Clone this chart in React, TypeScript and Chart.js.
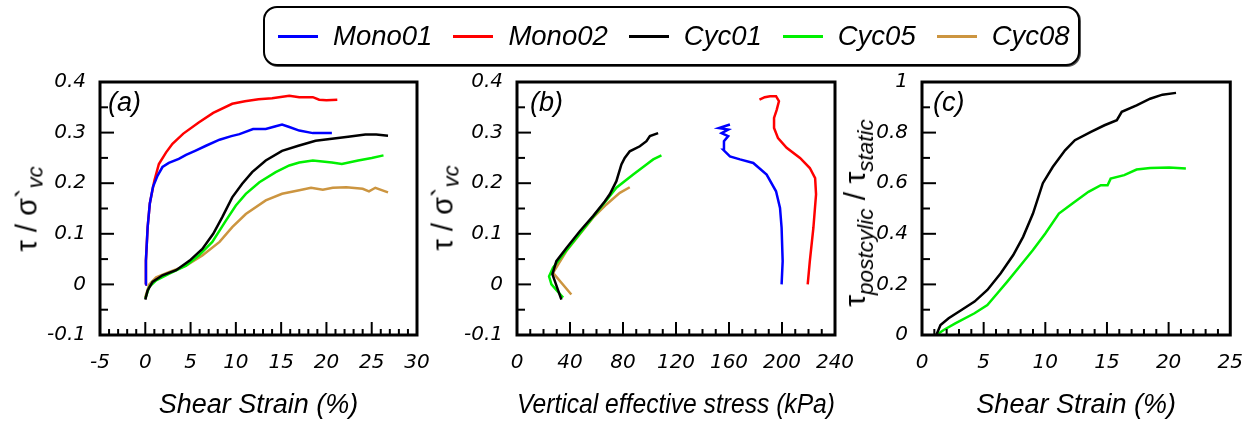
import React, { useEffect, useRef } from "react";
import { Chart, registerables } from "chart.js";

Chart.register(...registerables);

const W = 1259;
const H = 423;
const FONT = "'Liberation Sans', Arial, Helvetica, sans-serif";
const TICK_FONT = "'DejaVu Sans', Verdana, sans-serif";

// ---------- Panel (a): stress ratio vs shear strain ----------
const aMono01X = [0, 0.07, 0.26, 0.5, 0.85, 1.36, 1.9, 2.6, 3.7, 4.5, 5.5, 6.7, 8.2, 9.5, 10.4, 11.9, 13.3, 14.3, 15.1, 15.9, 17.0, 18.5, 20.6];
const aMono01Y = [0, 0.047, 0.113, 0.16, 0.193, 0.215, 0.232, 0.24, 0.248, 0.256, 0.264, 0.274, 0.286, 0.293, 0.297, 0.307, 0.307, 0.312, 0.316, 0.311, 0.304, 0.299, 0.299];
const aMono02X = [0, 0.07, 0.26, 0.5, 1.0, 1.5, 2.3, 3.0, 4.2, 5.9, 7.5, 9.6, 11.0, 12.5, 14.0, 15.9, 17.0, 18.5, 19.2, 20.0, 21.2];
const aMono02Y = [0, 0.047, 0.113, 0.16, 0.205, 0.238, 0.261, 0.278, 0.298, 0.32, 0.339, 0.357, 0.362, 0.366, 0.368, 0.373, 0.37, 0.37, 0.365, 0.364, 0.365];
const aCyc01X = [0, 0.26, 0.8, 1.9, 3.4, 4.9, 6.3, 7.5, 8.5, 9.6, 10.7, 11.8, 13.3, 15.1, 16.9, 18.8, 20.6, 22.4, 24.3, 25.5, 26.8];
const aCyc01Y = [-0.03, -0.012, 0.005, 0.018, 0.028, 0.047, 0.07, 0.1, 0.133, 0.172, 0.199, 0.222, 0.245, 0.264, 0.274, 0.284, 0.288, 0.292, 0.296, 0.296, 0.294];
const aCyc05X = [0, 0.44, 1.2, 2.6, 4.5, 5.9, 7.4, 8.9, 10.0, 11.1, 12.6, 14.4, 15.9, 17.0, 18.5, 20.6, 21.7, 23.5, 25.0, 26.3];
const aCyc05Y = [-0.028, -0.005, 0.008, 0.021, 0.037, 0.057, 0.084, 0.126, 0.156, 0.179, 0.202, 0.222, 0.235, 0.241, 0.245, 0.241, 0.238, 0.245, 0.25, 0.255];
const aCyc08X = [0, 0.44, 1.2, 2.6, 4.5, 6.3, 8.2, 9.6, 11.1, 13.3, 15.1, 17.0, 18.3, 19.6, 20.7, 22.2, 24.0, 24.7, 25.4, 26.8];
const aCyc08Y = [-0.025, 0, 0.014, 0.024, 0.037, 0.057, 0.084, 0.113, 0.139, 0.166, 0.179, 0.186, 0.191, 0.187, 0.191, 0.192, 0.189, 0.184, 0.191, 0.182];

// ---------- Panel (b): stress ratio vs vertical effective stress ----------
const bMono01X = [199.7, 200.5, 199.7, 198.5, 195.5, 188.4, 178.3, 168.3, 160.7, 155.7, 156.2, 159.4, 154.4, 159.4, 152.4, 160.7];
const bMono01Y = [0, 0.046, 0.112, 0.151, 0.184, 0.217, 0.24, 0.247, 0.253, 0.266, 0.283, 0.293, 0.299, 0.306, 0.309, 0.316];
const bMono02X = [219.4, 221, 223.7, 225.7, 225, 221, 213.6, 203.5, 197, 194, 194, 196, 197.7, 195.5, 191, 187, 183];
const bMono02Y = [0, 0.046, 0.112, 0.178, 0.21, 0.23, 0.25, 0.27, 0.289, 0.309, 0.329, 0.345, 0.362, 0.372, 0.372, 0.37, 0.365];
const bCyc01X = [33.5, 28.5, 26.7, 29.7, 37.3, 47.4, 57.4, 66.2, 70, 75, 78.8, 81.3, 85.1, 92.7, 97.7, 100.3, 106.5];
const bCyc01Y = [-0.03, 0.007, 0.02, 0.046, 0.072, 0.105, 0.135, 0.164, 0.178, 0.204, 0.237, 0.25, 0.263, 0.273, 0.283, 0.293, 0.299];
const bCyc05X = [34.8, 26, 24.2, 27.2, 34.8, 44.8, 54.9, 65, 75, 87.7, 97.7, 102.8, 109];
const bCyc05Y = [-0.026, 0, 0.016, 0.033, 0.059, 0.092, 0.125, 0.158, 0.191, 0.217, 0.237, 0.247, 0.255];
const bCyc08X = [41, 27.2, 37.3, 47.4, 57.4, 67.5, 77.6, 85.1];
const bCyc08Y = [-0.02, 0.023, 0.066, 0.099, 0.132, 0.158, 0.181, 0.192];

// ---------- Panel (c): post-cyclic / static strength vs shear strain ----------
const cCyc01X = [1.16, 1.5, 2.16, 3.2, 4.26, 5.3, 6.37, 7.4, 8.2, 9.0, 9.8, 10.6, 11.6, 12.4, 13.7, 14.8, 15.8, 16.2, 17.4, 18.5, 19.5, 20.6];
const cCyc01Y = [0, 0.039, 0.066, 0.099, 0.132, 0.178, 0.243, 0.316, 0.388, 0.48, 0.6, 0.664, 0.73, 0.77, 0.803, 0.829, 0.849, 0.882, 0.908, 0.934, 0.95, 0.957];
const cCyc05X = [1.16, 1.76, 2.7, 4.26, 5.3, 6.1, 6.9, 7.9, 9.0, 10.0, 11.1, 12.2, 13.5, 14.5, 15.05, 15.3, 16.4, 17.4, 18.5, 20.05, 21.4];
const cCyc05Y = [0, 0.02, 0.046, 0.086, 0.118, 0.164, 0.21, 0.27, 0.336, 0.401, 0.48, 0.52, 0.566, 0.592, 0.592, 0.618, 0.632, 0.654, 0.66, 0.662, 0.658];

const seriesNames = ["Mono01", "Mono02", "Cyc01", "Cyc05", "Cyc08"];
const seriesColors = ["#0000ff", "#ff0000", "#000000", "#00f000", "#cc9540"];

const xTitleA = "Shear Strain (%)";
const xTitleB = "Vertical effective stress (kPa)";
const xTitleC = "Shear Strain (%)";

type DS = { label: string; color: string; x: number[]; y: number[] };
type Spec = {
  left: number; right: number; top: number; bottom: number;
  xMin: number; xMax: number; xStep: number; xMinor: number;
  yMin: number; yMax: number; yStep: number; yMinor: number;
  xTitle: string; datasets: DS[];
};

const ds = (i: number, x: number[], y: number[]): DS => ({ label: seriesNames[i], color: seriesColors[i], x, y });

const specA: Spec = {
  left: 100, right: 417, top: 82, bottom: 335,
  xMin: -5, xMax: 30, xStep: 5, xMinor: 1,
  yMin: -0.1, yMax: 0.4, yStep: 0.1, yMinor: 0.05,
  xTitle: xTitleA,
  datasets: [ds(0, aMono01X, aMono01Y), ds(1, aMono02X, aMono02Y), ds(2, aCyc01X, aCyc01Y), ds(3, aCyc05X, aCyc05Y), ds(4, aCyc08X, aCyc08Y)],
};
const specB: Spec = {
  left: 517, right: 835, top: 82, bottom: 335,
  xMin: 0, xMax: 240, xStep: 40, xMinor: 10,
  yMin: -0.1, yMax: 0.4, yStep: 0.1, yMinor: 0.05,
  xTitle: xTitleB,
  datasets: [ds(0, bMono01X, bMono01Y), ds(1, bMono02X, bMono02Y), ds(2, bCyc01X, bCyc01Y), ds(3, bCyc05X, bCyc05Y), ds(4, bCyc08X, bCyc08Y)],
};
const specC: Spec = {
  left: 922, right: 1241, top: 82, bottom: 335,
  xMin: 0, xMax: 25, xStep: 5, xMinor: 1,
  yMin: 0, yMax: 1, yStep: 0.2, yMinor: 0.1,
  xTitle: xTitleC,
  datasets: [ds(2, cCyc01X, cCyc01Y), ds(3, cCyc05X, cCyc05Y)],
};

function isMajor(v: number, step: number) {
  const r = v / step;
  return Math.abs(r - Math.round(r)) < 1e-6;
}

function framePlugin(spec: Spec) {
  return {
    id: "frame",
    afterDraw(chart: any) {
      const { ctx, chartArea: a } = chart;
      const sx = chart.scales.x;
      const sy = chart.scales.y;
      ctx.save();
      ctx.strokeStyle = "#000";
      ctx.lineWidth = 2;
      const nx = Math.round((spec.xMax - spec.xMin) / spec.xMinor);
      for (let i = 1; i < nx; i++) {
        const v = spec.xMin + i * spec.xMinor;
        const px = sx.getPixelForValue(v);
        const len = isMajor(v, spec.xStep) ? 13 : 6;
        ctx.beginPath();
        ctx.moveTo(px, a.bottom);
        ctx.lineTo(px, a.bottom - len);
        ctx.stroke();
      }
      const ny = Math.round((spec.yMax - spec.yMin) / spec.yMinor);
      for (let i = 1; i < ny; i++) {
        const v = spec.yMin + i * spec.yMinor;
        const py = sy.getPixelForValue(v);
        const len = isMajor(v, spec.yStep) ? 14 : 8;
        ctx.beginPath();
        ctx.moveTo(a.left, py);
        ctx.lineTo(a.left + len, py);
        ctx.stroke();
      }
      ctx.lineWidth = 3;
      ctx.strokeRect(a.left, a.top, a.right - a.left, a.bottom - a.top);
      ctx.restore();
    },
  };
}

function Panel({ spec }: { spec: Spec }) {
  const ref = useRef<HTMLCanvasElement>(null);
  useEffect(() => {
    const YW = 60;
    const XH = 84;
    const tickFont = { family: TICK_FONT, size: 20, style: "italic" as const };
    const chart = new Chart(ref.current as HTMLCanvasElement, {
      type: "scatter",
      data: {
        datasets: spec.datasets.map((d) => ({
          label: d.label,
          data: d.x.map((x, i) => ({ x, y: d.y[i] })),
          borderColor: d.color,
          backgroundColor: d.color,
          showLine: true,
          pointRadius: 0,
          borderWidth: 2.5,
          tension: 0,
        })),
      },
      options: {
        animation: false,
        responsive: false,
        events: [],
        layout: {
          padding: { left: spec.left - YW, right: W - spec.right, top: spec.top, bottom: H - spec.bottom - XH },
        },
        plugins: { legend: { display: false }, tooltip: { enabled: false } },
        scales: {
          x: {
            type: "linear",
            min: spec.xMin,
            max: spec.xMax,
            afterFit: (s: any) => { s.height = XH; },
            grid: { display: false, drawTicks: false },
            border: { display: false },
            ticks: {
              stepSize: spec.xStep, padding: 16, font: tickFont, color: "#000",
              autoSkip: false, maxRotation: 0,
              callback: (v: any) => String(Math.round(Number(v) * 100) / 100),
            },
            title: {
              display: true, text: spec.xTitle, color: "#000", padding: 0,
              font: { family: FONT, size: 27, style: "italic", lineHeight: 1 },
            },
          },
          y: {
            type: "linear",
            min: spec.yMin,
            max: spec.yMax,
            afterFit: (s: any) => { s.width = YW; },
            grid: { display: false, drawTicks: false },
            border: { display: false },
            ticks: {
              stepSize: spec.yStep, padding: 14, font: tickFont, color: "#000",
              autoSkip: false,
              callback: (v: any) => String(Math.round(Number(v) * 100) / 100),
            },
          },
        },
      },
      plugins: [framePlugin(spec)],
    } as any);
    return () => chart.destroy();
  }, [spec]);
  return (
    <canvas
      ref={ref}
      width={W}
      height={H}
      style={{ position: "absolute", left: 0, top: 0, width: W, height: H }}
    />
  );
}

const textBase: React.CSSProperties = {
  position: "absolute",
  fontFamily: FONT,
  color: "#000",
  whiteSpace: "nowrap",
  lineHeight: 1,
};

function YTitleRatio({ cx, cy }: { cx: number; cy: number }) {
  return (
    <div style={{ ...textBase, left: cx, top: cy, fontSize: 29, transform: "translate(-50%, -50%) rotate(-90deg)" }}>
      τ / σ<span>`</span>
      <span style={{ fontStyle: "italic", fontSize: 22, position: "relative", top: 6 }}>vc</span>
    </div>
  );
}

function YTitleC({ cx, cy }: { cx: number; cy: number }) {
  const sub: React.CSSProperties = { fontStyle: "italic", fontSize: 22.5, position: "relative", top: 8 };
  return (
    <div style={{ ...textBase, left: cx, top: cy, fontSize: 30, transform: "translate(-50%, -50%) rotate(-90deg)" }}>
      τ<span style={sub}>postcylic</span> / τ<span style={sub}>static</span>
    </div>
  );
}

function Legend() {
  return (
    <div
      style={{
        position: "absolute", left: 263, top: 6, width: 817, height: 60, boxSizing: "border-box",
        border: "2px solid #000", borderRadius: 14, boxShadow: "1px 1px 0 #555",
        display: "flex", alignItems: "center", paddingLeft: 13, background: "#fff",
      }}
    >
      {seriesNames.map((n, i) => (
        <div key={n} style={{ display: "flex", alignItems: "center", marginRight: 21 }}>
          <div style={{ width: 40, height: 3, background: seriesColors[i], marginRight: 15 }} />
          <span style={{ fontFamily: FONT, fontStyle: "italic", fontSize: 27.5, lineHeight: 1 }}>{n}</span>
        </div>
      ))}
    </div>
  );
}

export default function App() {
  const label: React.CSSProperties = { ...textBase, top: 89, fontSize: 27, fontStyle: "italic" };
  return (
    <div style={{ position: "absolute", left: 0, top: 0, width: W, height: H, background: "#fff", overflow: "hidden" }}>
      <Panel spec={specA} />
      <Panel spec={specB} />
      <Panel spec={specC} />
      <Legend />
      <YTitleRatio cx={27} cy={209} />
      <YTitleRatio cx={443} cy={208} />
      <YTitleC cx={855} cy={213} />
      <div style={{ ...label, left: 108 }}>(a)</div>
      <div style={{ ...label, left: 530 }}>(b)</div>
      <div style={{ ...label, left: 933 }}>(c)</div>
    </div>
  );
}
